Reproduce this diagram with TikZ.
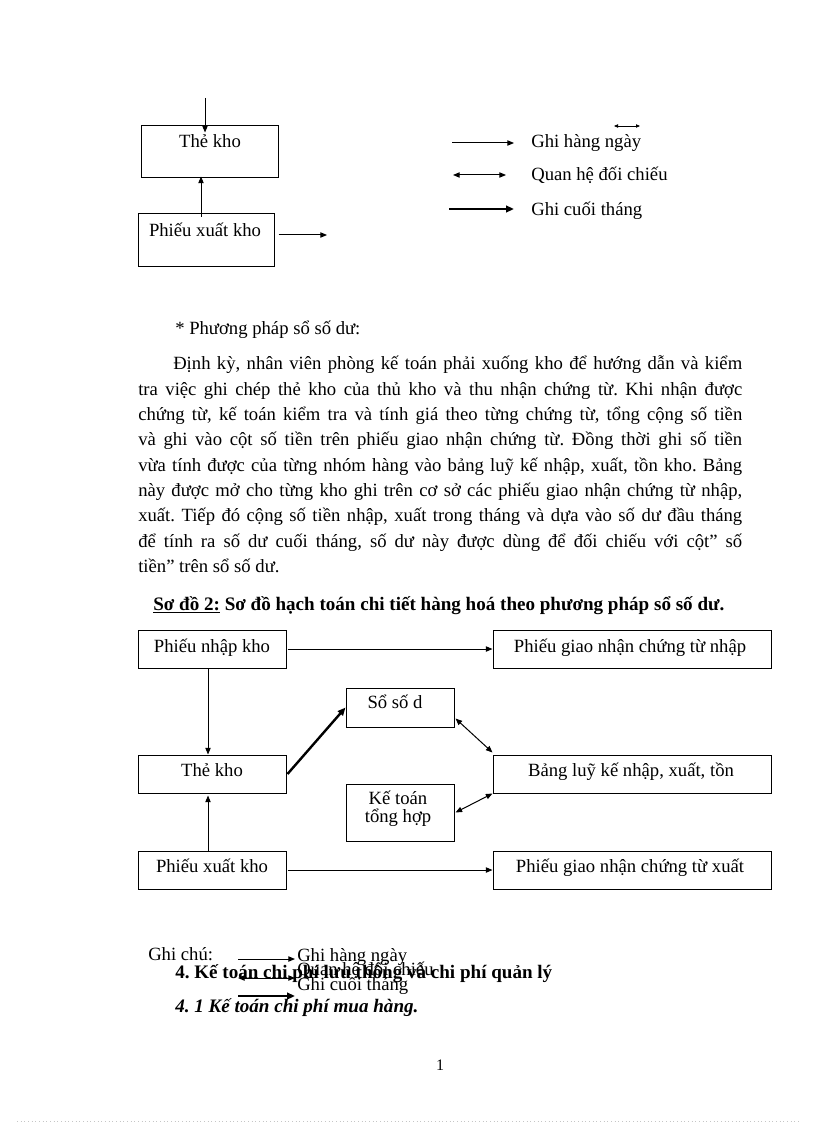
\documentclass[tikz,border=0pt]{standalone}
\usepackage{fontspec}
\setmainfont{Liberation Serif}
\usetikzlibrary{arrows.meta,fit,calc}
\frenchspacing
\newcommand\jline[2]{\hbox to #1{\spaceskip=0.25em plus 1fil minus 0.1em\relax #2}}
\tikzset{
  box/.style={draw, line width=0.75pt, inner sep=0pt},
  txt/.style={inner sep=0pt, anchor=base, font=\fontsize{14}{17}\selectfont},
  ltxt/.style={txt, anchor=base west},
  btxt/.style={ltxt, font=\fontsize{14.3}{17}\selectfont\bfseries},
  arr/.style={line width=0.75pt, -{Triangle[length=5pt,width=4pt]}},
  darr/.style={line width=0.75pt, {Triangle[length=5pt,width=4pt]}-{Triangle[length=5pt,width=4pt]}},
  tarr/.style={line width=1.8pt, -{Triangle[length=6pt,width=5pt]}},
}
\begin{document}
\begin{tikzpicture}[x=0.75pt,y=-0.75pt]
\useasboundingbox (0,0) rectangle (816,1123);
\fill[white] (0,0) rectangle (816,1123);

% ---- top fragment ----
\node[box, fit={(141,126)(278,178)}] (tk1) {};
\node[txt] (tk1t) at (210,148) {Thẻ kho};
\node[box, fit={(138,214)(274,266)}] (px1) {};
\node[txt] (px1t) at (205,237) {Phiếu xuất kho};
\coordinate (tin) at (205,98);
\draw[arr] (tin) -- ($(tk1.north -| tin)+(0,7)$);
\coordinate (u1) at (201,217);
\draw[arr] (u1) -- ($(u1 |- tk1.south)+(0,-2)$);
\coordinate (rout) at (327,235);
\draw[arr] ($(px1.east |- rout)+(4,0)$) -- (rout);

% ---- top legend ----
\coordinate (la1) at (452,143); \coordinate (lb1) at (514,143);
\draw[arr] (la1) -- (lb1);
\node[ltxt] (lt1) at (531,148) {Ghi hàng ngày};
\coordinate (sa) at (614,126); \coordinate (sb) at (640,126);
\draw[line width=0.6pt, {Triangle[length=3pt,width=2.5pt]}-{Triangle[length=3pt,width=2.5pt]}] (sa) -- (sb);
\coordinate (la2) at (453,175); \coordinate (lb2) at (506,175);
\draw[darr] (la2) -- (lb2);
\node[ltxt] (lt2) at (531,181) {Quan hệ đối chiếu};
\coordinate (la3) at (449,209); \coordinate (lb3) at (514,209);
\draw[tarr] (la3) -- (lb3);
\node[ltxt] (lt3) at (531,215) {Ghi cuối tháng};

% ---- paragraph ----
\node[ltxt] (p0) at (175,334) {* Phương pháp sổ số dư:};
\node[ltxt] (p1) at (173,369) {\jline{426.75pt}{Định kỳ, nhân viên phòng kế toán phải xuống kho để hướng dẫn và kiểm}};
\node[ltxt] (p2) at (138,395) {\jline{453pt}{tra việc ghi chép thẻ kho của thủ kho và thu nhận chứng từ. Khi nhận được}};
\node[ltxt] (p3) at (138,420) {\jline{453pt}{chứng từ, kế toán kiểm tra và tính giá theo từng chứng từ, tổng cộng số tiền}};
\node[ltxt] (p4) at (138,445) {\jline{453pt}{và ghi vào cột số tiền trên phiếu giao nhận chứng từ. Đồng thời ghi số tiền}};
\node[ltxt] (p5) at (138,471) {\jline{453pt}{vừa tính được của từng nhóm hàng vào bảng luỹ kế nhập, xuất, tồn kho. Bảng}};
\node[ltxt] (p6) at (138,496) {\jline{453pt}{này được mở cho từng kho ghi trên cơ sở các phiếu giao nhận chứng từ nhập,}};
\node[ltxt] (p7) at (138,521) {\jline{453pt}{xuất. Tiếp đó cộng số tiền nhập, xuất trong tháng và dựa vào số dư đầu tháng}};
\node[ltxt] (p8) at (138,547) {\jline{453pt}{để tính ra số dư cuối tháng, số dư này được dùng để đối chiếu với cột” số}};
\node[ltxt] (p9) at (138,572) {tiền” trên sổ số dư.};

\node[btxt] (hd) at (153,610) {\underline{Sơ đồ 2:} Sơ đồ hạch toán chi tiết hàng hoá theo phương pháp sổ số dư.};

% ---- diagram 2 ----
\node[box, fit={(138,630)(286,668)}] (pnk) {};
\node[txt] (pnkt) at (212,652) {Phiếu nhập kho};
\node[box, fit={(493,630)(771,668)}] (pgn) {};
\node[txt] (pgnt) at (630,652) {Phiếu giao nhận chứng từ nhập};
\node[box, fit={(346,688)(454,727)}] (ssd) {};
\node[txt] (ssdt) at (395,708) {Sổ số d};
\node[box, fit={(138,755)(286,793)}] (tk2) {};
\node[txt] (tk2t) at (212,776) {Thẻ kho};
\node[box, fit={(493,755)(771,793)}] (blk) {};
\node[txt] (blkt) at (631,776) {Bảng luỹ kế nhập, xuất, tồn};
\node[box, fit={(346,784)(454,841)}] (ktt) {};
\node[txt] (ktt1) at (398,804) {Kế toán};
\node[txt] (ktt2) at (398,822) {tổng hợp};
\node[box, fit={(138,851)(286,889)}] (px2) {};
\node[txt] (px2t) at (212,872) {Phiếu xuất kho};
\node[box, fit={(493,851)(771,889)}] (pgx) {};
\node[txt] (pgxt) at (630,872) {Phiếu giao nhận chứng từ xuất};

\draw[arr] ($(pnk.east)+(1,0)$) -- (pgn.west);
\draw[arr] ($(pnk.south)+(-4,0)$) -- ($(tk2.north)+(-4,0)$);
\draw[arr] ($(px2.north)+(-4,0)$) -- ($(tk2.south)+(-4,2)$);
\draw[arr] ($(px2.east)+(1,0)$) -- (pgx.west);
\draw[tarr] ($(tk2.east)+(1,0)$) -- (ssd.west);
\draw[darr] ($(ssd.south east)+(1,-9)$) -- ($(blk.north west)+(0,-2)$);
\draw[darr] ($(ktt.east)+(1,0)$) -- (blk.south west);

% ---- bottom legend ----
\node[ltxt] (gc) at (148,960) {Ghi chú:};
\coordinate (ba1) at (238,959); \coordinate (bb1) at (295,959);
\draw[arr] (ba1) -- (bb1);
\node[ltxt] (bt1) at (297,961) {Ghi hàng ngày};
\node[ltxt] (bt2) at (297,975) {Quan hệ đối chiếu};
\coordinate (ba2) at (238,978); \coordinate (bb2) at (295,978);
\draw[darr] (ba2) -- (bb2);
\node[btxt] (h4) at (175,978) {4. Kế toán chi phí lưu thông và chi phí quản lý};
\node[ltxt] (bt3) at (297,990) {Ghi cuối tháng};
\coordinate (ba3) at (238,996); \coordinate (bb3) at (295,996);
\draw[tarr] (ba3) -- (bb3);
\node[btxt, font=\fontsize{14.3}{17}\selectfont\bfseries\itshape] (h41) at (175,1012) {4. 1 Kế toán chi phí mua hàng.};

\node[txt, font=\fontsize{12}{14}\selectfont] (pg) at (440,1070) {1};
\draw[gray!45, dotted, line width=0.75pt] (17,1121) -- (800,1121);
\end{tikzpicture}
\end{document}
